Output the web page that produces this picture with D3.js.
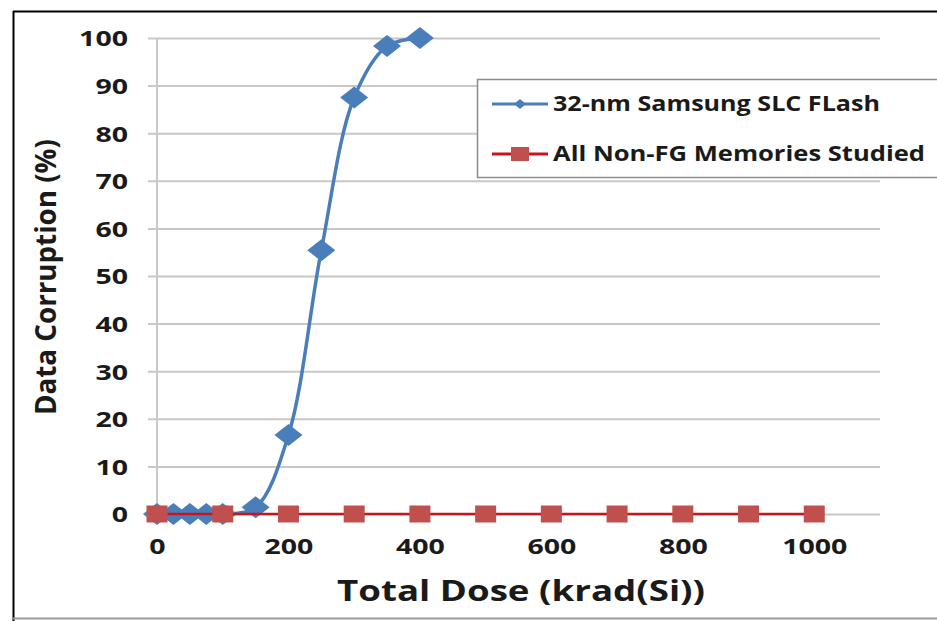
<!DOCTYPE html>
<html>
<head>
<meta charset="utf-8">
<script src="https://cdn.jsdelivr.net/npm/d3@7/dist/d3.min.js"></script>
<style>
  html, body { margin: 0; padding: 0; background: #fff; }
  svg { display: block; }
  text { font-family: "Open Sans", "DejaVu Sans", sans-serif; font-weight: 700; fill: #1a1a1a; }
</style>
</head>
<body>
<svg id="chart" width="937" height="621"></svg>
<script>
// Total dose (krad(Si)) and measured data corruption (%)
const flashDose = [0, 25, 50, 75, 100, 150, 200, 250, 300, 350, 400];
const flashCorruption = [0, 0, 0, 0, 0, 1.4, 16.6, 55.4, 87.5, 98.3, 100];
const otherDose = [0, 100, 200, 300, 400, 500, 600, 700, 800, 900, 1000];
const otherCorruption = [0, 0, 0, 0, 0, 0, 0, 0, 0, 0, 0];
const xTicks = [0, 200, 400, 600, 800, 1000];
const yTicks = [0, 10, 20, 30, 40, 50, 60, 70, 80, 90, 100];
const seriesNames = ["32-nm Samsung SLC FLash", "All Non-FG Memories Studied"];

const svg = d3.select("#chart");
const blue = "#4a7ebb", redLine = "#c8141a", redMark = "#c0504d", grid = "#c8c8c8";

const x = d3.scaleLinear().domain([0, 1100]).range([157, 880]);
const y = d3.scaleLinear().domain([0, 100]).range([514, 38]);

// outer frame
svg.append("line").attr("x1", 13).attr("x2", 937).attr("y1", 11.5).attr("y2", 11.5)
  .attr("stroke", "#000").attr("stroke-width", 2);
svg.append("line").attr("x1", 13.5).attr("x2", 13.5).attr("y1", 11).attr("y2", 621)
  .attr("stroke", "#000").attr("stroke-width", 2);
svg.append("line").attr("x1", 13).attr("x2", 937).attr("y1", 618.5).attr("y2", 618.5)
  .attr("stroke", "#999").attr("stroke-width", 2);

const digitW = 16.3;
const styleTick = sel => sel.attr("font-size", 22).attr("fill", "#1a1a1a")
  .style("font-family", "'Open Sans', sans-serif").style("font-weight", 700)
  .attr("textLength", function () { return this.textContent.length * digitW; })
  .attr("lengthAdjust", "spacingAndGlyphs");

// horizontal gridlines with y tick labels
const yAxis = d3.axisLeft(y).tickValues(yTicks).tickFormat(d3.format("d"))
  .tickSize(-(880 - 148)).tickPadding(20);
const gy = svg.append("g").attr("transform", "translate(148,0)").call(yAxis);
gy.select(".domain").remove();
gy.selectAll(".tick line").attr("stroke", grid).attr("stroke-width", 2);
gy.selectAll(".tick text").call(styleTick).attr("dy", "0.36em");

// vertical axis line
svg.append("line").attr("x1", x(0)).attr("x2", x(0)).attr("y1", y(100)).attr("y2", y(0) + 6)
  .attr("stroke", grid).attr("stroke-width", 2);

// x tick labels
const xAxis = d3.axisBottom(x).tickValues(xTicks).tickFormat(d3.format("d"))
  .tickSize(0).tickPadding(24);
const gx = svg.append("g").attr("transform", `translate(0,${y(0)})`).call(xAxis);
gx.select(".domain").remove();
gx.selectAll(".tick text").call(styleTick);

// axis titles
svg.append("text").attr("x", 521).attr("y", 601).attr("text-anchor", "middle")
  .attr("font-size", 29).attr("textLength", 368).attr("lengthAdjust", "spacingAndGlyphs")
  .text("Total Dose (krad(Si))");
svg.append("text").attr("transform", "translate(56,277) rotate(-90)").attr("text-anchor", "middle")
  .attr("font-size", 28).attr("textLength", 276).attr("lengthAdjust", "spacingAndGlyphs")
  .text("Data Corruption (%)");

// marker shapes (slightly wider than tall)
const diamond = (cx, cy, w, h) => `M${cx},${cy - h / 2}L${cx + w / 2},${cy}L${cx},${cy + h / 2}L${cx - w / 2},${cy}Z`;
const sqW = 21, sqH = 17;

const flash = flashDose.map((d, i) => ({ x: d, y: flashCorruption[i] }));
const other = otherDose.map((d, i) => ({ x: d, y: otherCorruption[i] }));

// flash series: smoothed line + diamonds
svg.append("path").datum(flash)
  .attr("d", d3.line().x(d => x(d.x)).y(d => y(d.y)).curve(d3.curveCatmullRom.alpha(0.5)))
  .attr("fill", "none").attr("stroke", blue).attr("stroke-width", 3.5);
svg.append("g").selectAll("path").data(flash).join("path")
  .attr("d", d => diamond(x(d.x), y(d.y), 28, 22)).attr("fill", blue);

// non-FG series: straight line + squares
svg.append("path").datum(other)
  .attr("d", d3.line().x(d => x(d.x)).y(d => y(d.y)))
  .attr("fill", "none").attr("stroke", redLine).attr("stroke-width", 2.5);
svg.append("g").selectAll("rect").data(other).join("rect")
  .attr("x", d => x(d.x) - sqW / 2).attr("y", d => y(d.y) - sqH / 2)
  .attr("width", sqW).attr("height", sqH).attr("fill", redMark);

// legend
const lg = svg.append("g");
lg.append("rect").attr("x", 477.5).attr("y", 79.5).attr("width", 470).attr("height", 98)
  .attr("fill", "#fff").attr("stroke", "#8c8c8c").attr("stroke-width", 1.5);
const rows = [104, 154];
lg.append("line").attr("x1", 492).attr("x2", 548).attr("y1", rows[0]).attr("y2", rows[0])
  .attr("stroke", blue).attr("stroke-width", 3);
lg.append("path").attr("d", diamond(520, rows[0], 12, 10)).attr("fill", blue);
lg.append("line").attr("x1", 492).attr("x2", 548).attr("y1", rows[1]).attr("y2", rows[1])
  .attr("stroke", redLine).attr("stroke-width", 3);
lg.append("rect").attr("x", 511).attr("y", rows[1] - 7).attr("width", 18).attr("height", 14).attr("fill", redMark);
lg.selectAll("text.lbl").data(seriesNames).join("text").attr("class", "lbl")
  .attr("x", 553).attr("y", (d, i) => rows[i]).attr("dy", "0.35em")
  .attr("font-size", 21)
  .attr("textLength", (d, i) => i === 0 ? 327 : 372).attr("lengthAdjust", "spacingAndGlyphs")
  .text(d => d);
</script>
</body>
</html>
